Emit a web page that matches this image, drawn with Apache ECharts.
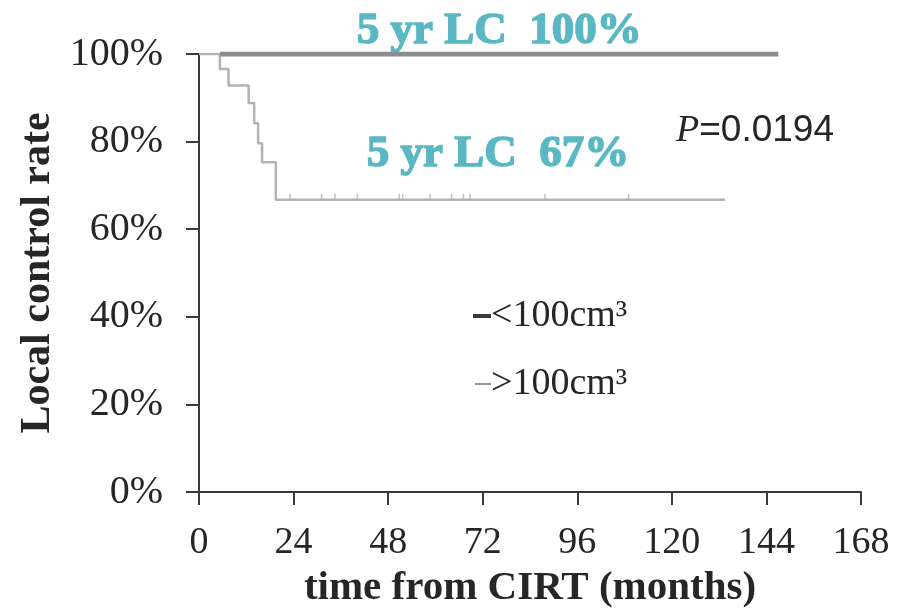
<!DOCTYPE html>
<html>
<head>
<meta charset="utf-8">
<script src="https://cdn.jsdelivr.net/npm/echarts@6/dist/echarts.min.js"></script>
<style>
  html, body { margin: 0; padding: 0; background: #ffffff; }
  #chart { width: 900px; height: 615px; }
</style>
</head>
<body>
<div id="chart"></div>
<script>
// Kaplan-Meier local control, split by tumour volume
const xTicks = [0, 24, 48, 72, 96, 120, 144, 168];
const yTicks = [0, 20, 40, 60, 80, 100];

// <100 cm3 group: no local failures
const smallTimes = [5.3, 147];
const smallRate = [100, 100];

// >100 cm3 group: step curve (time in months, local control %)
const largeTimes = [0, 5.3, 7.5, 12.6, 14.0, 15.0, 16.0, 19.5, 133.5];
const largeRate = [100, 96.6, 92.8, 88.8, 84.2, 79.6, 75.3, 66.7, 66.7];

// censored observations on the >100 cm3 curve
const censorTimes = [23.1, 31.1, 34.5, 40.2, 50.8, 51.7, 58.6, 64.1, 67.1, 68.8, 87.8, 109.0];
const censorRate = 66.7;

const seriesNames = ['<100cm³', '>100cm³'];
const fiveYearLabels = ['5 yr LC  100%', '5 yr LC  67%'];
const pValueText = '0.0194';

const teal = '#59b8c3';
const darkLine = '#8d8d8d';
const lightLine = '#b2b2b2';
const inkColor = '#262626';

const zip = (xs, ys) => xs.map((x, i) => [x, ys[i]]);

const chart = echarts.init(document.getElementById('chart'), null, { renderer: 'canvas' });

chart.setOption({
  backgroundColor: '#ffffff',
  animation: false,
  grid: { left: 199, right: 39, top: 54, bottom: 123, containLabel: false },
  xAxis: {
    type: 'value',
    min: xTicks[0],
    max: xTicks[xTicks.length - 1],
    interval: 24,
    name: 'time from CIRT (months)',
    nameLocation: 'middle',
    nameGap: 76,
    nameTextStyle: { fontFamily: 'Liberation Serif', fontWeight: 'bold', fontSize: 41, color: inkColor },
    axisLine: { lineStyle: { color: '#3a3a3a', width: 2 } },
    axisTick: { inside: false, length: 13, lineStyle: { color: '#3a3a3a', width: 2 } },
    axisLabel: { margin: 32, fontFamily: 'Liberation Serif', fontSize: 38, color: inkColor },
    splitLine: { show: false }
  },
  yAxis: {
    type: 'value',
    min: yTicks[0],
    max: yTicks[yTicks.length - 1],
    interval: 20,
    name: 'Local control rate',
    nameLocation: 'middle',
    nameRotate: 90,
    nameGap: 138,
    nameTextStyle: { fontFamily: 'Liberation Serif', fontWeight: 'bold', fontSize: 42, color: inkColor },
    axisLine: { show: true, lineStyle: { color: '#3a3a3a', width: 2 } },
    axisTick: { show: true, inside: false, length: 13, lineStyle: { color: '#3a3a3a', width: 2 } },
    axisLabel: { margin: 36, fontFamily: 'Liberation Serif', fontSize: 40, color: inkColor, formatter: '{value}%' },
    splitLine: { show: false }
  },
  legend: [
    {
      data: [{ name: seriesNames[0], icon: 'rect' }],
      left: 468, top: 292, orient: 'vertical',
      itemWidth: 18, itemHeight: 4, itemGap: 0,
      itemStyle: { color: '#3a3a3a' },
      textStyle: { fontFamily: 'Liberation Serif', fontSize: 38, color: inkColor, padding: [0, 0, 0, -5] },
      selectedMode: false
    },
    {
      data: [{ name: seriesNames[1], icon: 'rect' }],
      left: 470, top: 360, orient: 'vertical',
      itemWidth: 16, itemHeight: 2, itemGap: 0,
      itemStyle: { color: '#9a9a9a' },
      textStyle: { fontFamily: 'Liberation Serif', fontSize: 38, color: inkColor, padding: [0, 0, 0, -5] },
      selectedMode: false
    }
  ],
  graphic: [
    {
      type: 'text', top: 8, left: 356,
      style: {
        text: fiveYearLabels[0], fill: teal,
        font: 'bold 45px "Liberation Serif"',
        stroke: teal, lineWidth: 1.5
      }
    },
    {
      type: 'text', top: 131, left: 366,
      style: {
        text: fiveYearLabels[1], fill: teal,
        font: 'bold 45px "Liberation Serif"',
        stroke: teal, lineWidth: 1.5
      }
    },
    {
      type: 'text', top: 112, left: 676,
      style: {
        text: '{p|P}{v|=' + pValueText + '}',
        rich: {
          p: { fontFamily: 'Liberation Serif', fontStyle: 'italic', fontSize: 38, fill: inkColor },
          v: { fontFamily: 'Liberation Sans', fontSize: 37, fill: inkColor }
        }
      }
    }
  ],
  series: [
    {
      name: seriesNames[0],
      type: 'line',
      data: zip(smallTimes, smallRate),
      showSymbol: false,
      symbol: 'none',
      lineStyle: { color: darkLine, width: 5 },
      itemStyle: { color: '#3a3a3a' },
      z: 3
    },
    {
      name: seriesNames[1],
      type: 'line',
      step: 'end',
      data: zip(largeTimes, largeRate),
      showSymbol: false,
      symbol: 'none',
      lineStyle: { color: lightLine, width: 2.5 },
      itemStyle: { color: '#9a9a9a' },
      z: 2
    },
    {
      name: 'censored',
      type: 'scatter',
      data: censorTimes.map(t => [t, censorRate]),
      symbol: 'rect',
      symbolSize: [1.5, 6],
      symbolOffset: [0, -3],
      itemStyle: { color: lightLine },
      z: 2
    }
  ]
});
</script>
</body>
</html>
